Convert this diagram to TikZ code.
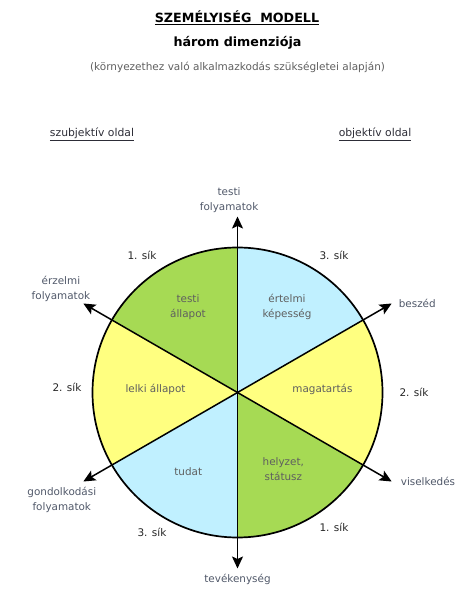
\documentclass[tikz,border=0pt]{standalone}
\usepackage{fontspec}
\setmainfont{DejaVu Sans}
\usetikzlibrary{arrows.meta}
\usetikzlibrary{positioning}

\definecolor{sikzold}{RGB}{166,218,84}
\definecolor{siksarga}{RGB}{255,255,128}
\definecolor{sikkek}{RGB}{192,240,255}
\definecolor{cimke}{RGB}{95,95,95}
\definecolor{folyamat}{RGB}{80,88,105}
\definecolor{oldal}{RGB}{45,45,55}

\tikzset{
  tengely/.style={line width=1.5pt,-{Stealth[length=12pt,width=11pt,inset=2.5pt]}},
  belso/.style={text=cimke,align=center,inner sep=1pt,font=\fontsize{10.4}{15}\selectfont},
  kulso/.style={text=folyamat,align=center,inner sep=1pt,font=\fontsize{10.4}{15}\selectfont},
  siklap/.style={text=black!85,inner sep=1pt,font=\fontsize{10.5}{12}\selectfont},
}

\begin{document}
\begin{tikzpicture}[x=1pt,y=1pt]
    \useasboundingbox (-237.5,-211.5) rectangle (235.5,392.5);
    \coordinate (O) at (0,0);

    % cimek
    \node[font=\bfseries\fontsize{12.7}{14}\selectfont] (cim) at (-0.5,374.5) {\underline{SZEMÉLYISÉG\ \ MODELL}};
    \node[font=\bfseries\fontsize{12.7}{14}\selectfont] (alcim) at (0,349.5) {három dimenziója};
    \node[text=cimke,font=\fontsize{10.5}{12}\selectfont] (megj) at (0,325.5) {(környezethez való alkalmazkodás szükségletei alapján)};
    \node[text=oldal,font=\fontsize{10.8}{12}\selectfont] (szubj) at (-145.5,258.5) {\underline{szubjektív oldal}};
    \node[text=oldal,font=\fontsize{10.8}{12}\selectfont] (obj) at (137.5,258.5) {\underline{objektív oldal}};

    % sikok
    \foreach \a/\szin in {90/sikzold,150/siksarga,210/sikkek,270/sikzold,330/siksarga,30/sikkek}
        \fill[\szin] (O) -- (\a:145pt) arc (\a:\a+60:145pt) -- cycle;
    \draw[line width=1.7pt] (O) circle (145pt);

    % tengelyek
    \coordinate (fent) at (90:176pt);
    \coordinate (lent) at (270:176pt);
    \coordinate (balfent) at (150:178pt);
    \coordinate (ballent) at (210:178pt);
    \coordinate (jobbfent) at (30:178pt);
    \coordinate (jobblent) at (330:178pt);
    \foreach \v in {fent,lent,balfent,ballent,jobbfent,jobblent}
        \draw[tengely] (O) -- (\v);

    % folyamatok
    \node[kulso,above left=3pt and -22pt of fent] (testif) {testi\\folyamatok};
    \node[kulso,below=4pt of lent] (tev) {tevékenység};
    \node[kulso,above left=1pt and -8pt of balfent] (erz) {érzelmi\\folyamatok};
    \node[kulso,below left=4pt and -14pt of ballent] (gond) {gondolkodási\\folyamatok};
    \node[kulso,right=6pt of jobbfent] (besz) {beszéd};
    \node[kulso,right=8pt of jobblent] (visel) {viselkedés};

    % allapotok
    \node[belso] (testia) at (120:99pt) {testi\\állapot};
    \node[belso] (ertelmi) at (60:99pt) {értelmi\\képesség};
    \node[belso] (lelki) at (178:82pt) {lelki állapot};
    \node[belso] (magatart) at (2:85pt) {magatartás};
    \node[belso] (tudat) at (238:93pt) {tudat};
    \node[belso] (helyzet) at (301:89pt) {helyzet,\\státusz};

    % sik cimkek
    \node[siklap] (s1a) at (-95.5,137.5) {1. sík};
    \node[siklap] (s3a) at (96.5,137.5) {3. sík};
    \node[siklap] (s2a) at (-170.5,5.5) {2. sík};
    \node[siklap] (s2b) at (176.5,0.5) {2. sík};
    \node[siklap] (s3b) at (-85.5,-139.5) {3. sík};
    \node[siklap] (s1b) at (96.5,-134.5) {1. sík};
\end{tikzpicture}
\end{document}
